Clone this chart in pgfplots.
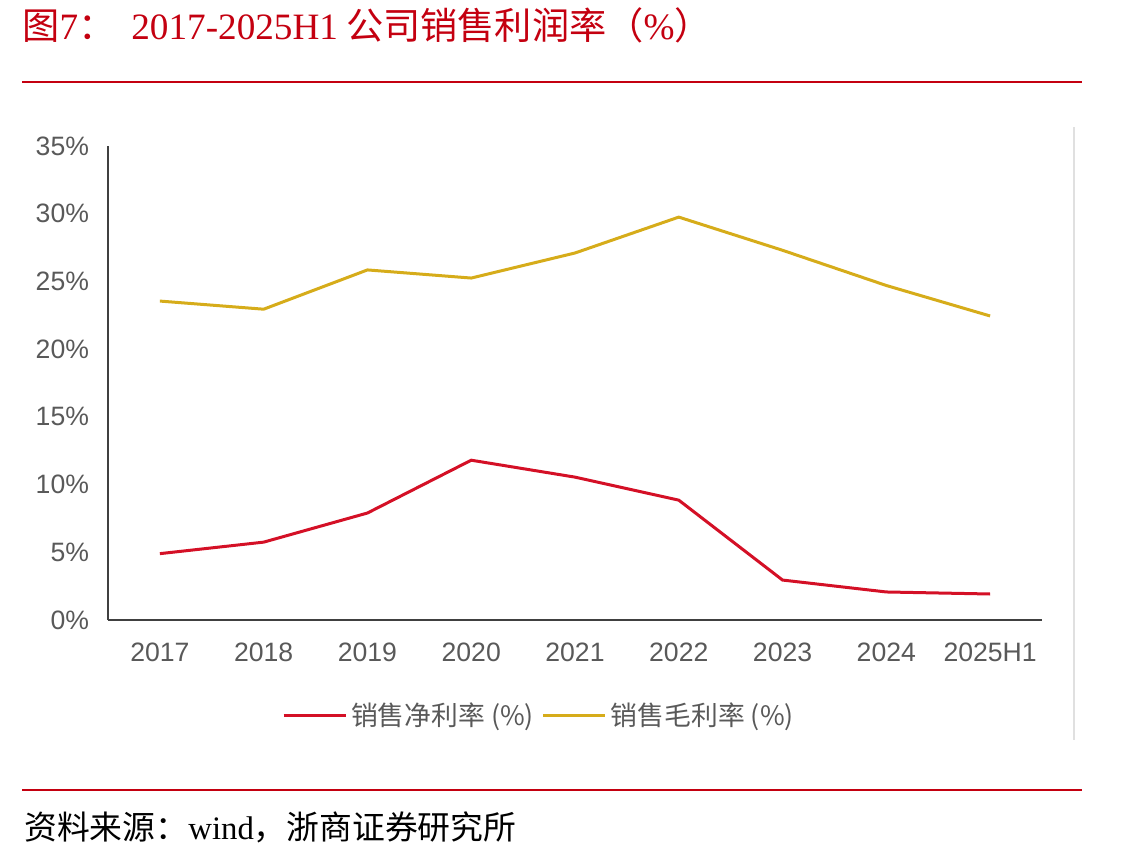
\documentclass[border=0pt]{standalone}
\usepackage{fontspec}
\usepackage{pgfplots}
\pgfplotsset{compat=1.18}
\setmainfont{Liberation Sans}
\newfontfamily\cjk{Noto Sans CJK SC}
\newfontfamily\serif{Liberation Serif}
\definecolor{netred}{RGB}{212,16,38}
\definecolor{grossyel}{RGB}{214,172,26}
\definecolor{titlered}{RGB}{196,0,16}
\definecolor{ticktext}{RGB}{89,89,89}
\definecolor{axisgray}{RGB}{64,64,64}
\begin{document}
\begin{tikzpicture}
\path (0bp,0bp) rectangle (570.5bp,-429.5bp);
% title
\node[anchor=base west,inner sep=0,text=titlered] at (11bp,-19.5bp)
  {\fontsize{18.6bp}{20bp}\selectfont{\cjk 图}{\serif 7}{\cjk ：}\hspace{8bp}{\serif 2017-2025H1}\hspace{4bp}{\cjk 公司销售利润率（}{\serif \%}{\cjk ）}};
\draw[titlered,line width=0.9bp] (11bp,-41bp) -- (541bp,-41bp);
% footer
\draw[titlered,line width=0.9bp] (11bp,-395bp) -- (541bp,-395bp);
\node[anchor=base west,inner sep=0] at (12bp,-419.5bp)
  {\fontsize{16.4bp}{18bp}\selectfont{\cjk 资料来源：}{\serif wind}{\cjk ，浙商证券研究所}};
% faint artifact line on the right
\draw[black!12,line width=0.6bp] (537bp,-63.5bp) -- (537bp,-370bp);
\begin{axis}[
  at={(54bp,-310bp)}, anchor=south west,
  scale only axis, width=467bp, height=237bp,
  xmin=-0.5, xmax=8.5, ymin=0, ymax=35,
  axis x line*=bottom, axis y line*=left,
  axis line style={axisgray,line width=1bp,-},
  xtick={0,1,2,3,4,5,6,7,8},
  xticklabels={2017,2018,2019,2020,2021,2022,2023,2024,2025H1},
  ytick={0,5,10,15,20,25,30,35},
  yticklabel={\pgfmathprintnumber{\tick}\%},
  major tick length=0pt,
  /pgf/number format/assume math mode=true,
  tick label style={text=ticktext,font=\fontsize{13.3bp}{15bp}\selectfont},
  xticklabel style={yshift=-8bp},
  yticklabel style={xshift=-6bp},
  legend columns=2,
  legend style={at={(0.4625,-0.2025)},anchor=center,draw=none,fill=none,
    font=\fontsize{13.4bp}{15bp}\selectfont\cjk,text=ticktext,
    /tikz/every even column/.append style={column sep=2bp}},
  legend image code/.code={\draw[#1] (0bp,0bp) -- (31bp,0bp);},
]
\addplot[netred,line width=1.5bp] coordinates {
(0,4.9) (1,5.75) (2,7.9) (3,11.8) (4,10.55) (5,8.85) (6,2.95) (7,2.07) (8,1.92)};
\addlegendentry{销售净利率 (\%)}
\addplot[grossyel,line width=1.5bp] coordinates {
(0,23.55) (1,22.95) (2,25.85) (3,25.25) (4,27.1) (5,29.75) (6,27.3) (7,24.7) (8,22.45)};
\addlegendentry{销售毛利率 (\%)}
\end{axis}
\end{tikzpicture}
\end{document}
